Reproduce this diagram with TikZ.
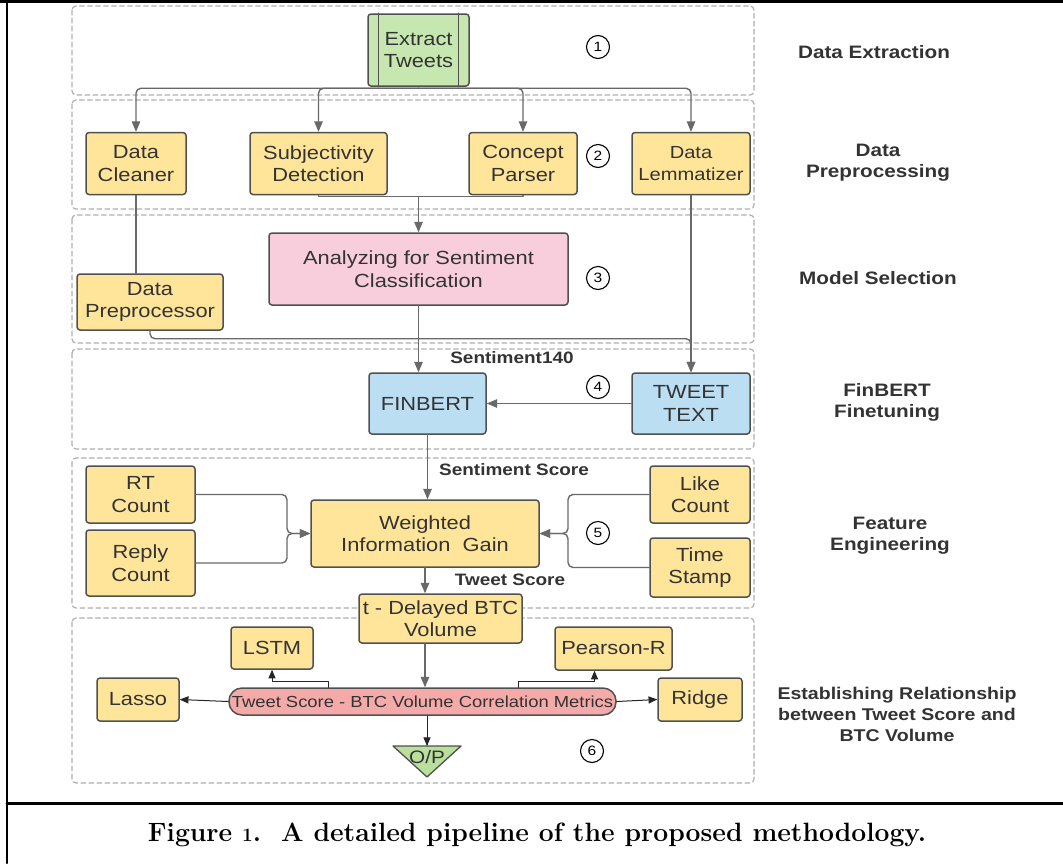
\documentclass[tikz,border=0pt]{standalone}
\usepackage{fontspec}
\usepackage{pgf,tikz}
\usetikzlibrary{arrows}
\newfontfamily\boxfont[FakeStretch=1.15]{Liberation Sans}
\definecolor{boxyellow}{RGB}{255,229,153}
\definecolor{boxpink}{RGB}{248,206,220}
\definecolor{boxblue}{RGB}{187,222,242}
\definecolor{boxgreen}{RGB}{199,231,176}
\definecolor{opgreen}{RGB}{186,222,155}
\definecolor{pillred}{RGB}{245,170,170}
\definecolor{edgegray}{RGB}{80,80,80}
\definecolor{wiregray}{RGB}{105,105,105}
\definecolor{txtgray}{RGB}{51,51,51}
\definecolor{stagegray}{RGB}{175,175,175}
\tikzset{
  stagebox/.style={draw=stagegray,line width=1.2pt,dash pattern=on 5pt off 3pt,rounded corners=4pt},
  basebox/.style={draw=edgegray,line width=1.5pt,rounded corners=3pt,align=center,inner sep=0pt,text=txtgray,font=\boxfont\fontsize{19}{22.5}\selectfont},
  ybox/.style={basebox,fill=boxyellow},
  pbox/.style={basebox,fill=boxpink},
  bbox/.style={basebox,fill=boxblue},
  gbox/.style={basebox,fill=boxgreen},
  wire/.style={draw=wiregray,line width=1.4pt,rounded corners=5pt},
  thinwire/.style={draw=black!85,line width=1pt},
  numcirc/.style={circle,draw=black,line width=1.1pt,minimum size=23pt,inner sep=0pt,font=\boxfont\fontsize{13.5}{13.5}\selectfont},
  stagelabel/.style={align=center,text=txtgray,font=\boxfont\bfseries\fontsize{18}{21}\selectfont},
  midlabel/.style={text=txtgray,font=\boxfont\bfseries\fontsize{16.5}{20}\selectfont}
}
\begin{document}
\begin{tikzpicture}[line cap=round,line join=round,>=triangle 45,x=1pt,y=-1pt]
\useasboundingbox (0,0) rectangle (1063,863);
\draw[line width=3pt] (0,1.5) -- (1063,1.5);
\draw[line width=2pt] (7,0) -- (7,863);
\draw[line width=3pt] (7,803.5) -- (1063,803.5);
\draw[stagebox] (72,6) rectangle (754,95);
\draw[stagebox] (72,100) rectangle (754,209);
\draw[stagebox] (72,215) rectangle (754,343);
\draw[stagebox] (72,349) rectangle (754,449);
\draw[stagebox] (72,458) rectangle (754,608);
\draw[stagebox] (72,618) rectangle (754,783);
\node[gbox,minimum width=101pt,minimum height=72pt] (extract) at (418.5,50) {Extract\\Tweets};
\draw[draw=edgegray,line width=1.3pt] ([xshift=11pt]extract.north west) -- ([xshift=11pt]extract.south west);
\draw[draw=edgegray,line width=1.3pt] ([xshift=-11pt]extract.north east) -- ([xshift=-11pt]extract.south east);
\node[ybox,minimum width=100pt,minimum height=62pt] (cleaner) at (136,163.5) {Data\\Cleaner};
\node[ybox,minimum width=137pt,minimum height=62pt] (subj) at (318.5,163.5) {Subjectivity\\Detection};
\node[ybox,minimum width=108pt,minimum height=62pt] (concept) at (523,163.5) {Concept\\Parser};
\node[ybox,minimum width=118pt,minimum height=62pt,font=\boxfont\fontsize{17.5}{22.5}\selectfont] (lemma) at (691,163.5) {Data\\Lemmatizer};
\node[pbox,minimum width=299pt,minimum height=72pt] (analyze) at (418.5,269) {Analyzing for Sentiment\\Classification};
\node[ybox,minimum width=146pt,minimum height=56pt] (prep) at (150,302) {Data\\Preprocessor};
\node[bbox,minimum width=117pt,minimum height=61pt] (finbert) at (427.5,403.5) {FINBERT};
\node[bbox,minimum width=118pt,minimum height=61pt] (tweettext) at (691,403.5) {TWEET\\TEXT};
\node[ybox,minimum width=109pt,minimum height=57pt] (rt) at (140.5,494.5) {RT\\Count};
\node[ybox,minimum width=109pt,minimum height=66pt] (reply) at (140.5,563) {Reply\\Count};
\node[ybox,minimum width=228pt,minimum height=67pt] (wig) at (425,533.5) {Weighted\\Information\ \ Gain};
\node[ybox,minimum width=100pt,minimum height=57pt] (like) at (700,494.5) {Like\\Count};
\node[ybox,minimum width=100pt,minimum height=59pt] (stamp) at (700,567.5) {Time\\Stamp};
\node[ybox,minimum width=163pt,minimum height=49pt] (delay) at (440.5,618.5) {t - Delayed BTC\\Volume};
\node[ybox,minimum width=82pt,minimum height=42pt] (lstm) at (272,648) {LSTM};
\node[ybox,minimum width=117pt,minimum height=43pt] (pearson) at (613.5,648.5) {Pearson-R};
\node[ybox,minimum width=82pt,minimum height=43pt] (lasso) at (138,699.5) {Lasso};
\node[ybox,minimum width=84pt,minimum height=43pt] (ridge) at (700,699.5) {Ridge};
\node[basebox,fill=pillred,rounded corners=13pt,minimum width=387pt,minimum height=27pt,font=\boxfont\fontsize{16}{18}\selectfont] (pill) at (422.5,701.5) {Tweet Score - BTC Volume Correlation Metrics};
\filldraw[fill=opgreen,draw=edgegray,line width=1.3pt] (393,746) -- (461,746) -- (427,777) -- cycle;
\coordinate (opbase) at (427,746);
\node[text=txtgray,font=\boxfont\fontsize{18}{18}\selectfont] (op) at (427,757) {O/P};
\node[numcirc] (c1) at (598,47) {1};
\node[numcirc] (c2) at (598,156) {2};
\node[numcirc] (c3) at (598,278) {3};
\node[numcirc] (c4) at (598,387) {4};
\node[numcirc] (c5) at (598,533) {5};
\node[numcirc] (c6) at (592,751) {6};
\node[stagelabel] (lab1) at (874,52) {Data Extraction};
\node[stagelabel] (lab2) at (878,162.5) {Data\\Preprocessing};
\node[stagelabel] (lab3) at (878,278) {Model Selection};
\node[stagelabel] (lab4) at (887,402) {FinBERT\\Finetuning};
\node[stagelabel] (lab5) at (890,536) {Feature\\Engineering};
\node[stagelabel,font=\boxfont\bfseries\fontsize{17}{21}\selectfont] (lab6) at (897,714) {Establishing Relationship\\between Tweet Score and\\BTC Volume};
\node[midlabel] (s140) at (512,358) {Sentiment140};
\node[midlabel] (sscore) at (514,470) {Sentiment Score};
\node[midlabel] (tscore) at (510,580) {Tweet Score};
\coordinate (ext) at ([yshift=-1.5pt]extract.south);
\draw[wire,->] (ext) -| (cleaner.north);
\draw[wire,->] (ext) -| (subj.north);
\draw[wire,->] (ext) -| (concept.north);
\draw[wire,->] (ext) -| (lemma.north);
\coordinate (mrg) at (418.5,196.5);
\draw[wire,rounded corners=0pt] (subj.south) |- (mrg);
\draw[wire,rounded corners=0pt] (concept.south) |- (mrg);
\draw[wire,->] (mrg) -- (analyze.north);
\draw[wire] (cleaner.south) -- (cleaner.south |- prep.north);
\draw[wire,->] (prep.south) -- ++(0,8) -| (tweettext.north);
\draw[wire,->] (lemma.south) -- (tweettext.north);
\draw[wire,->] (analyze.south) -- (analyze.south |- finbert.north);
\draw[wire,->] (tweettext.west) -- (finbert.east);
\draw[wire,->] (finbert.south) -- (finbert.south |- wig.north);
\coordinate (jl) at (287,533.5);
\coordinate (jr) at (568,533.5);
\draw[wire,->] (rt.east) -| (jl) -- (wig.west);
\draw[wire,->] (reply.east) -| (jl) -- (wig.west);
\draw[wire,->] (like.west) -| (jr) -- (wig.east);
\draw[wire,->] (stamp.west) -| (jr) -- (wig.east);
\draw[wire,->] (wig.south) -- (wig.south |- delay.north);
\draw[wire,->] (wig.south |- delay.south) -- (wig.south |- pill.north);
\draw[thinwire,->] (pill.west) -- (lasso.east);
\draw[thinwire,->] (pill.east) -- (ridge.west);
\draw[thinwire,->] ([xshift=-94.5pt]pill.north) -- ++(0,-6) -| (lstm.south);
\draw[thinwire,->] ([xshift=95.5pt]pill.north) -- ++(0,-6) -| ([xshift=-19pt]pearson.south);
\draw[thinwire,->] (opbase |- pill.south) -- (opbase);
\node[font=\bfseries\fontsize{26.5}{30}\selectfont] (caption) at (537,835) {Figure {\fontsize{19}{19}\selectfont 1}.\ \ A detailed pipeline of the proposed methodology.};
\end{tikzpicture}
\end{document}
